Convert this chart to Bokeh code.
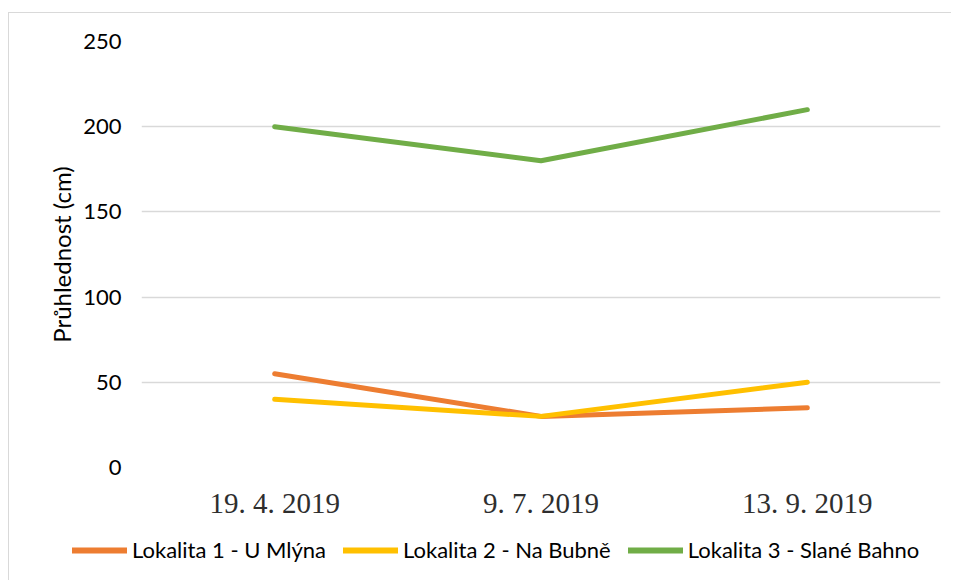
from bokeh.plotting import figure
from bokeh.models import Legend, LegendItem, FixedTicker, Range1d
from bokeh.layouts import column
from bokeh.embed import file_html
from bokeh.resources import INLINE

dates = ["19. 4. 2019", "9. 7. 2019", "13. 9. 2019"]
lok1 = [55, 30, 35]
lok2 = [40, 30, 50]
lok3 = [200, 180, 210]
names = ["Lokalita 1 - U Mlýna", "Lokalita 2 - Na Bubně", "Lokalita 3 - Slané Bahno"]
colors = ["#ED7D31", "#FFC000", "#70AD47"]
y_ticks = [0, 50, 100, 150, 200, 250]
series = [lok1, lok2, lok3]

p = figure(x_range=dates, y_range=Range1d(0, 250), width=942, height=512,
           output_backend="svg", toolbar_location=None,
           min_border_left=132, min_border_right=11, min_border_top=28, min_border_bottom=58)
p.outline_line_color = None
p.x_range.range_padding = 0
p.frame_align = False

for vals, c in zip(series, colors):
    p.line(dates, vals, line_color=c, line_width=5, line_cap="round", line_join="round")

p.xgrid.grid_line_color = None
p.ygrid.grid_line_color = "#d9d9d9"
p.ygrid.grid_line_width = 1.5

p.yaxis.ticker = FixedTicker(ticks=y_ticks)
p.yaxis.axis_line_color = None
p.yaxis.major_tick_line_color = None
p.yaxis.minor_tick_line_color = None
p.yaxis.major_label_standoff = 14
p.yaxis.major_label_text_font = "Lato"
p.yaxis.major_label_text_font_size = "22px"
p.yaxis.major_label_text_color = "#000000"
p.yaxis.axis_label = "Průhlednost (cm)"
p.yaxis.axis_label_text_font = "Lato"
p.yaxis.axis_label_text_font_size = "24px"
p.yaxis.axis_label_text_font_style = "normal"
p.yaxis.axis_label_text_color = "#000000"
p.yaxis.axis_label_standoff = 4

p.xaxis.axis_line_color = None
p.xaxis.major_tick_line_color = None
p.xaxis.minor_tick_line_color = None
p.xaxis.major_label_standoff = 13
p.xaxis.major_label_text_font = "Liberation Serif"
p.xaxis.major_label_text_font_size = "29px"
p.xaxis.major_label_text_color = "#2e2e2e"

# legend strip
pl = figure(x_range=dates, y_range=Range1d(0, 250), width=942, height=55,
            output_backend="svg", toolbar_location=None,
            min_border_left=0, min_border_right=0, min_border_top=0, min_border_bottom=0)
pl.frame_align = False
pl.outline_line_color = None
pl.axis.visible = False
pl.grid.visible = False
leg_renderers = []
for vals, c in zip(series, colors):
    r = pl.line(dates, vals, line_color=c, line_width=6, line_cap="round", visible=False)
    leg_renderers.append(r)

legend = Legend(items=[LegendItem(label=n, renderers=[r]) for n, r in zip(names, leg_renderers)],
                orientation="horizontal", location=(63, 17),
                glyph_width=55, glyph_height=20, label_standoff=5, spacing=17,
                label_text_font="Lato", label_text_font_size="22px", label_text_color="#000000",
                border_line_color=None, background_fill_alpha=0, padding=0, margin=0,
                inactive_fill_alpha=0)
pl.add_layout(legend, "center")

layout = column(p, pl, spacing=0)
layout.margin = (12, 0, 0, 8)
layout.styles = {"border-top": "1.5px solid #d9d9d9", "border-left": "1.5px solid #d9d9d9"}

open("out.html", "w").write(file_html(layout, INLINE))
